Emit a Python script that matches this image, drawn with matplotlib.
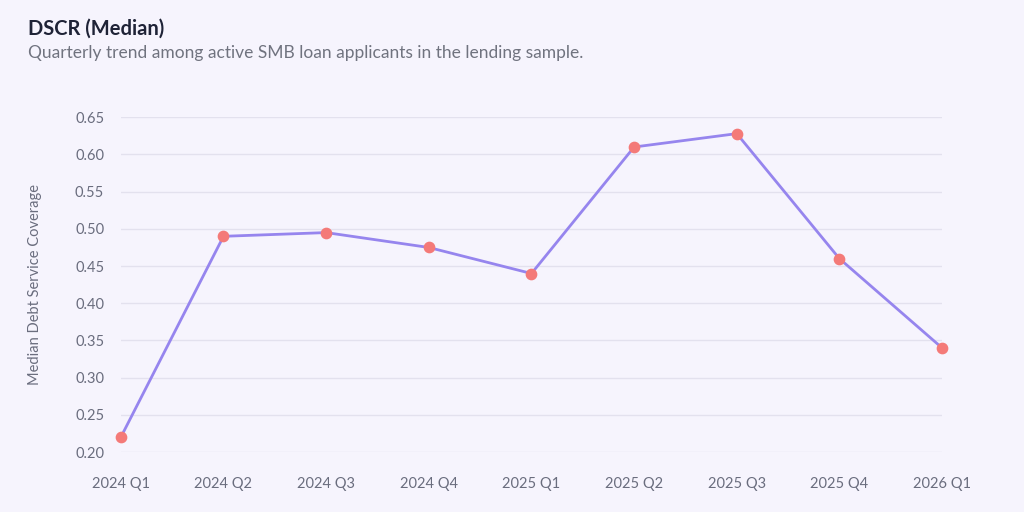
import matplotlib
matplotlib.use("Agg")
import matplotlib.pyplot as plt

# quarterly median DSCR
quarters = ["2024 Q1", "2024 Q2", "2024 Q3", "2024 Q4", "2025 Q1",
            "2025 Q2", "2025 Q3", "2025 Q4", "2026 Q1"]
dscr = [0.22, 0.49, 0.495, 0.475, 0.44, 0.61, 0.628, 0.46, 0.34]
yticks = [0.20, 0.25, 0.30, 0.35, 0.40, 0.45, 0.50, 0.55, 0.60, 0.65]

bg = "#f6f4fd"
plt.rcParams['font.family'] = ['Lato', 'DejaVu Sans']

fig = plt.figure(figsize=(10.24, 5.12), dpi=100, facecolor=bg)
ax = fig.add_axes([0.118, 0.117, 0.802, 0.654])
ax.set_facecolor(bg)

x = list(range(len(quarters)))
ax.plot(x, dscr, color="#9685ee", lw=2, zorder=2, clip_on=False)
ax.scatter(x, dscr, s=55, color="#f47a78", zorder=3, clip_on=False)

ax.set_xlim(0, len(quarters) - 1)
ax.set_ylim(0.20, 0.65)
ax.set_xticks(x)
ax.set_xticklabels(quarters)
ax.set_yticks(yticks)
ax.set_yticklabels(["%.2f" % v for v in yticks])
ax.grid(axis="y", color="#e3e1ee", lw=1)
ax.set_axisbelow(True)
for s in ax.spines.values():
    s.set_visible(False)
ax.tick_params(length=0, labelsize=10.5, labelcolor="#6a6d7e")
ax.tick_params(axis="x", pad=18)
ax.tick_params(axis="y", pad=12)
ax.set_ylabel("Median Debt Service Coverage", fontsize=10.5, color="#6a6d7e", labelpad=24)

fig.text(0.027, 0.932, "DSCR (Median)", fontsize=14.5, fontweight="bold", color="#1f2337")
fig.text(0.027, 0.887, "Quarterly trend among active SMB loan applicants in the lending sample.",
         fontsize=12.5, color="#70737f")

fig.savefig("out.png", dpi=100, facecolor=bg)
